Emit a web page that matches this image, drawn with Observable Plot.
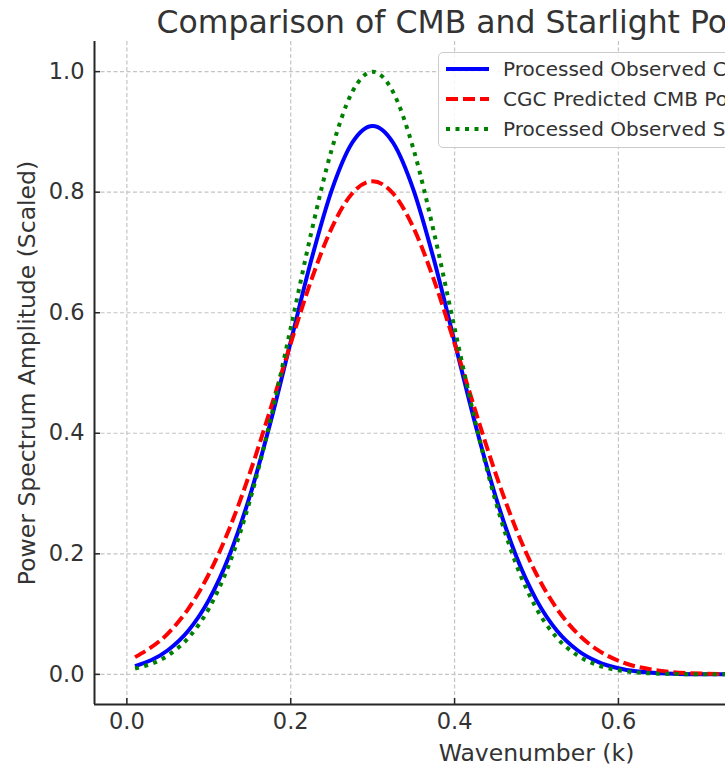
<!DOCTYPE html>
<html>
<head>
<meta charset="utf-8">
<script src="https://cdn.jsdelivr.net/npm/d3@7"></script>
<script src="https://cdn.jsdelivr.net/npm/@observablehq/plot@0.6"></script>
<style>
  html, body { margin: 0; padding: 0; background: #ffffff; overflow: hidden; }
  #wrap { position: relative; width: 725px; height: 769px; overflow: hidden; font-family: "DejaVu Sans", sans-serif; }
  #legend { position: absolute; left: 438px; top: 52px; width: 420px; height: 96px; box-sizing: border-box;
            border: 1px solid #cccccc; border-radius: 5px; background: rgba(255,255,255,0.85); }
  .row { position: absolute; left: 0; height: 30px; display: flex; align-items: center; white-space: nowrap; }
  .row svg { margin-left: 7px; }
  .row span { margin-left: 14px; font-size: 20px; color: #333333; }
</style>
</head>
<body>
<div id="wrap"><div id="chart"></div><div id="legend"></div></div>
<script>
// ---- data ----
const titleText = "Comparison of CMB and Starlight Power Spectra";
const xLabel = "Wavenumber (k)";
const yLabel = "Power Spectrum Amplitude (Scaled)";

const seriesNames = [
  "Processed Observed CMB Power Spectrum",
  "CGC Predicted CMB Power Spectrum",
  "Processed Observed Starlight Power Spectrum"
];
const seriesColors = ["#0000ff", "#ff0000", "#008000"];
const seriesDash = [null, "12,5", "4,5.5"];

const k = [0.01, 0.05, 0.075, 0.1, 0.125, 0.15, 0.175, 0.2, 0.225, 0.25, 0.275, 0.3,
           0.325, 0.35, 0.375, 0.4, 0.425, 0.45, 0.475, 0.5, 0.525, 0.55, 0.575, 0.6,
           0.65, 0.7, 0.75, 0.8, 0.9, 1.0];

const observedCMB = [0.0136, 0.0400, 0.0724, 0.1232, 0.1968, 0.2955, 0.4166, 0.5519, 0.6869, 0.8031, 0.8820, 0.9100,
                     0.8820, 0.8031, 0.6869, 0.5519, 0.4166, 0.2955, 0.1968, 0.1232, 0.0724, 0.0400, 0.0208, 0.0101,
                     0.0020, 0.0003, 0.0000, 0.0000, 0.0000, 0.0000];
const predictedCMB = [0.0286, 0.0677, 0.1087, 0.1661, 0.2413, 0.3337, 0.4389, 0.5491, 0.6537, 0.7405, 0.7979, 0.8180,
                      0.7979, 0.7405, 0.6537, 0.5491, 0.4389, 0.3337, 0.2413, 0.1661, 0.1087, 0.0677, 0.0402, 0.0226,
                      0.0062, 0.0014, 0.0003, 0.0000, 0.0000, 0.0000];
const observedStar = [0.0095, 0.0313, 0.0605, 0.1090, 0.1833, 0.2875, 0.4208, 0.5746, 0.7323, 0.8707, 0.9660, 1.0000,
                      0.9660, 0.8707, 0.7323, 0.5746, 0.4208, 0.2875, 0.1833, 0.1090, 0.0605, 0.0313, 0.0152, 0.0068,
                      0.0011, 0.0001, 0.0000, 0.0000, 0.0000, 0.0000];

const xTicks = [0, 0.2, 0.4, 0.6];
const yTicks = [0, 0.2, 0.4, 0.6, 0.8, 1.0];
const xDomain = [-0.0395, 1.0395];
const yDomain = [-0.05, 1.05];

// ---- build table ----
const seriesValues = [observedCMB, predictedCMB, observedStar];
const tables = seriesValues.map((vals, i) => k.map((kv, j) => ({k: kv, v: vals[j], s: seriesNames[i]})));

const fmt = d3.format(".1f");
const ink = "#262626";

const lineMarks = tables.map((t, i) => Plot.line(t, {
  x: "k", y: "v",
  stroke: seriesColors[i],
  strokeWidth: 4,
  strokeDasharray: seriesDash[i] || undefined,
  strokeLinecap: "butt",
  curve: "monotone-x"
}));

const chart = Plot.plot({
  width: 725,
  height: 769,
  marginTop: 41,
  marginBottom: 65,
  marginLeft: 94,
  marginRight: -253,
  style: {fontFamily: "'DejaVu Sans', sans-serif", background: "#ffffff", color: "#333333", overflow: "hidden"},
  x: {domain: xDomain},
  y: {domain: yDomain},
  marks: [
    Plot.gridX(xTicks, {stroke: "#c4c4c4", strokeOpacity: 1, strokeWidth: 1.2, strokeDasharray: "4,2.5"}),
    Plot.gridY(yTicks, {stroke: "#c4c4c4", strokeOpacity: 1, strokeWidth: 1.2, strokeDasharray: "4,2.5"}),
    ...lineMarks,
    Plot.ruleX([xDomain[0]], {stroke: ink, strokeWidth: 2}),
    Plot.ruleY([yDomain[0]], {stroke: ink, strokeWidth: 2}),
    Plot.axisX(xTicks, {tickSize: -6, tickPadding: 15, tickFormat: fmt, fontSize: 22.5, label: null, stroke: ink, strokeWidth: 1.5}),
    Plot.axisY(yTicks, {tickSize: -6, tickPadding: 16, tickFormat: fmt, fontSize: 22.5, label: null, stroke: ink, strokeWidth: 1.5}),
    Plot.text([xLabel], {frameAnchor: "bottom", lineAnchor: "bottom", textAnchor: "middle", dy: 56, fontSize: 23.5, fill: "#333333"}),
    Plot.text([yLabel], {frameAnchor: "left", lineAnchor: "bottom", textAnchor: "middle", rotate: -90, dx: -60, fontSize: 23.5, fill: "#333333"}),
    Plot.text([titleText], {frameAnchor: "top", lineAnchor: "bottom", textAnchor: "middle", dy: -9, fontSize: 31.5, fill: "#333333"})
  ]
});
document.getElementById("chart").appendChild(chart);

// ---- legend ----
const legend = document.getElementById("legend");
seriesNames.forEach((name, i) => {
  const row = document.createElement("div");
  row.className = "row";
  row.style.top = (1 + i * 30) + "px";
  const ns = "http://www.w3.org/2000/svg";
  const svg = document.createElementNS(ns, "svg");
  svg.setAttribute("width", "43");
  svg.setAttribute("height", "10");
  const ln = document.createElementNS(ns, "line");
  ln.setAttribute("x1", "0"); ln.setAttribute("x2", "43");
  ln.setAttribute("y1", "5"); ln.setAttribute("y2", "5");
  ln.setAttribute("stroke", seriesColors[i]);
  ln.setAttribute("stroke-width", "4");
  if (seriesDash[i]) ln.setAttribute("stroke-dasharray", seriesDash[i]);
  svg.appendChild(ln);
  const span = document.createElement("span");
  span.textContent = name;
  row.appendChild(svg);
  row.appendChild(span);
  legend.appendChild(row);
});
</script>
</body>
</html>
